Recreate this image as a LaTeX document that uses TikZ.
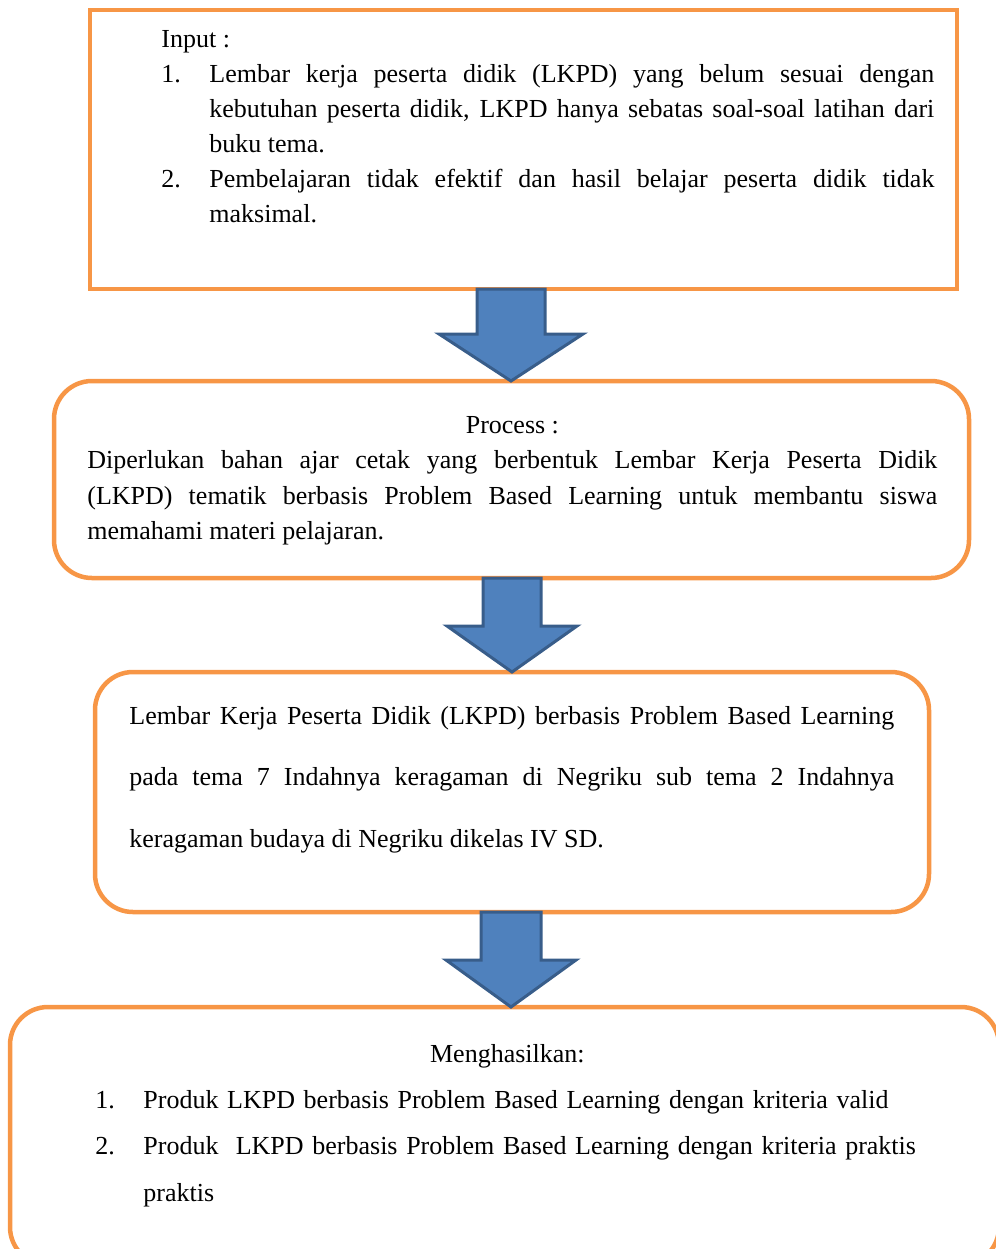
\documentclass[tikz,border=0pt]{standalone}
\usepackage{fontspec}
\setmainfont{Liberation Serif}
\usetikzlibrary{calc}
\definecolor{boxorange}{HTML}{F79646}
\definecolor{arrowblue}{HTML}{4F81BD}
\definecolor{arrowedge}{HTML}{385D8A}

% numbered line with hanging indent
\newcommand{\itemnum}[1]{\par\noindent\hangindent=24pt\hangafter=1\makebox[24pt][l]{#1}}
% block arrow: x-coordinate, from node, to node, shaft half width, head half width, head length
\newcommand{\blockarrow}[6]{%
  \coordinate (top) at (#1 |- #2.south);
  \coordinate (tip) at (#1 |- #3.north);
  \draw[arrowbody] ($(top)+(-#4,0)$) -- ($(top)+(#4,0)$) -- ($(tip)+(#4,-#6)$) -- ($(tip)+(#5,-#6)$)
    -- (tip) -- ($(tip)+(-#5,-#6)$) -- ($(tip)+(-#4,-#6)$) -- cycle;}

\begin{document}
\begin{tikzpicture}[x=0.5pt, y=-0.5pt,
  flowbox/.style = {draw=boxorange, line width=2.25pt, inner sep=0pt, outer sep=0pt},
  roundbox/.style = {flowbox, rounded corners=19pt},
  arrowbody/.style = {draw=arrowedge, fill=arrowblue, line width=1.5pt},
  boxtext/.style = {anchor=base west, inner sep=0pt, align=justify}]
\useasboundingbox (0,0) rectangle (996,1249);

\coordinate (axa) at (511,0);
\coordinate (axb) at (512,0);

% boxes
\node[flowbox, minimum width=433.5pt, minimum height=139.5pt] (input) at (523.5,149.5) {};
\node[roundbox, minimum width=457.5pt, minimum height=98.5pt] (process) at (511.5,479.5) {};
\node[roundbox, minimum width=417pt, minimum height=120pt] (lkpd) at (512,792) {};
\node[roundbox, minimum width=494.5pt, minimum height=129pt] (output) at (504.5,1136) {};

% arrows
\blockarrow{axa}{input}{process}{34}{72}{47}
\blockarrow{axb}{process}{lkpd}{29}{65}{46}
\blockarrow{axa}{lkpd}{output}{30}{65}{47}

% texts
\node[boxtext, text width=386.5pt, font=\fontsize{13}{17.5}\selectfont] (inputtext) at (161,47) {\tolerance=9999 Input :
\itemnum{1.}Lembar kerja peserta didik (LKPD) yang belum sesuai dengan\linebreak kebutuhan peserta didik, LKPD hanya sebatas soal-soal latihan dari\linebreak buku tema.
\itemnum{2.}Pembelajaran tidak efektif dan hasil belajar peserta didik tidak\linebreak maksimal.\par};

\node[boxtext, text width=425pt, font=\fontsize{13}{17.75}\selectfont] (processtext) at (87,433) {\tolerance=9999 \makebox[\linewidth]{Process :}\par
Diperlukan bahan ajar cetak yang berbentuk Lembar Kerja Peserta Didik\linebreak (LKPD) tematik berbasis Problem Based Learning untuk membantu siswa\linebreak memahami materi pelajaran.};

\node[boxtext, text width=382.5pt, font=\fontsize{13}{30.75}\selectfont] (lkpdtext) at (129,724) {\tolerance=9999 Lembar Kerja Peserta Didik (LKPD) berbasis Problem Based Learning\linebreak pada tema 7 Indahnya keragaman di Negriku sub tema 2 Indahnya\linebreak keragaman budaya di Negriku dikelas IV SD.};

\node[boxtext, text width=412pt, align=left, font=\fontsize{13}{23.2}\selectfont] (outputtext) at (95,1062) {\makebox[\linewidth]{Menghasilkan:}\par
\itemnum{1.}Produk LKPD berbasis Problem Based Learning dengan kriteria valid
\itemnum{2.}Produk\ \ LKPD berbasis Problem Based Learning dengan kriteria praktis\linebreak praktis\par};
\end{tikzpicture}
\end{document}
